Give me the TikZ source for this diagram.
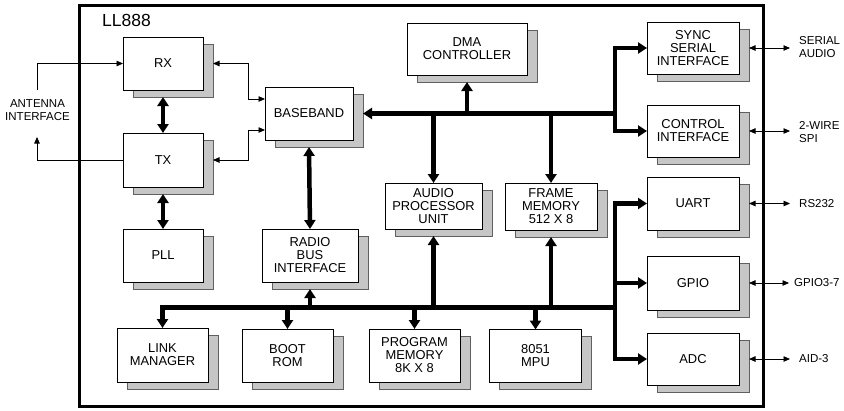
\documentclass[tikz,border=0pt]{standalone}
\usepackage{fontspec}
\setmainfont{Liberation Sans}
\usetikzlibrary{arrows.meta}
\begin{document}
\begin{tikzpicture}[x=1pt,y=-1pt,
  blk/.style={draw=black,line width=0.9pt,fill=white,inner sep=0pt,outer sep=0pt,align=center,
    font=\fontsize{12.9}{13}\selectfont},
  shd/.style={draw=gray!75!black,line width=0.5pt,fill=gray!45,inner sep=0pt,outer sep=0pt},
  bus/.style={line width=4.5pt,line join=miter},
  busarr/.style={bus,-{Triangle[width=11pt,length=9pt]}},
  busboth/.style={bus,{Triangle[width=11pt,length=9pt]}-{Triangle[width=11pt,length=9pt]}},
  thinarr/.style={line width=0.8pt,-{Triangle[width=5.5pt,length=6.5pt]}},
  thinboth/.style={line width=0.8pt,{Triangle[width=5.5pt,length=6.5pt]}-{Triangle[width=5.5pt,length=6.5pt]}},
  side/.style={inner sep=0pt,align=left,font=\fontsize{11.5}{12.8}\selectfont},
]
\useasboundingbox (0,0) rectangle (844,410);
\newcommand{\blkbox}[6]{%
  \node[shd,minimum width=#4pt,minimum height=#5pt] (#1-s) at ({#2+10},{#3+7}) {};
  \node[blk,minimum width=#4pt,minimum height=#5pt] (#1) at (#2,#3) {#6};}
% outer border
\node[draw=black,line width=3pt,inner sep=0pt,minimum width=684pt,minimum height=401pt] (chip) at (421,206) {};
\node[anchor=west,inner sep=0pt,font=\fontsize{17.5}{17.5}\selectfont] (title) at (102,20) {LL888};
% blocks
\blkbox{rx}{163}{63.5}{80}{53}{RX}
\blkbox{tx}{163}{160}{80}{54}{TX}
\blkbox{pll}{163}{255.5}{80}{53}{PLL}
\blkbox{link}{162.5}{355}{91}{54}{LINK\\MANAGER}
\blkbox{boot}{287.5}{355.5}{91}{53}{BOOT\\ROM}
\blkbox{prog}{414.5}{355.5}{91}{53}{PROGRAM\\MEMORY\\8K X 8}
\blkbox{mpu}{535.5}{356}{92}{53}{8051\\MPU}
\blkbox{radio}{310}{255.5}{96}{53}{RADIO\\BUS\\INTERFACE}
\blkbox{bb}{309}{113.5}{88}{53}{BASEBAND}
\blkbox{dma}{467}{49}{120}{52}{DMA\\CONTROLLER}
\blkbox{audio}{433.5}{206}{97}{46}{AUDIO\\PROCESSOR\\UNIT}
\blkbox{frame}{551}{206.5}{92}{47}{FRAME\\MEMORY\\512 X 8}
\blkbox{sync}{693}{48}{92}{52}{SYNC\\SERIAL\\INTERFACE}
\blkbox{ctrl}{693}{131}{92}{52}{CONTROL\\INTERFACE}
\blkbox{uart}{693}{203.5}{92}{53}{UART}
\blkbox{gpio}{693}{283}{92}{54}{GPIO}
\blkbox{adc}{693}{359}{92}{52}{ADC}
% antenna
\node[side,align=center] (ant) at (37.5,110) {ANTENNA\\INTERFACE};
\coordinate (a1) at (37,90);
\coordinate (a2) at (37,137);
\draw[thinarr] (a1) |- (rx.west);
\draw[thinarr] (tx.west) -| (a2);
% rx/tx to baseband
\draw[thinboth] (rx.east -| rx-s.east) -- ++(35,0) |- ([yshift=14.5pt]bb.west);
\draw[thinboth] (tx.east -| tx-s.east) -- ++(35,0) |- ([yshift=-16.5pt]bb.west);
% vertical thick arrows
\draw[busboth] (rx-s.south -| rx.south) -- (tx.north);
\draw[busboth] (tx-s.south -| tx.south) -- (pll.north);
\draw[busboth] (bb-s.south -| bb.south) -- (radio.north);
% upper bus
\coordinate (ub) at (615,113.5);
\draw[busarr] (ub) -- (bb-s.east |- bb.east);
\draw[busarr] (dma.south |- ub) -- (dma-s.south -| dma.south);
\draw[busarr] (audio.north |- ub) -- (audio.north);
\draw[busarr] (frame.north |- ub) -- (frame.north);
\draw[busboth] (sync.west) -- (sync.west -| ub) -- (ctrl.west -| ub) -- (ctrl.west);
% lower bus
\coordinate (lb) at (615,307.5);
\draw[busarr] (lb) -- (link.north |- lb) -- (link.north);
\draw[busarr] (boot.north |- lb) -- (boot.north);
\draw[busarr] (prog.north |- lb) -- (prog.north);
\draw[busarr] (mpu.north |- lb) -- (mpu.north);
\draw[busarr] (radio.south |- lb) -- (radio-s.south -| radio.south);
\draw[busarr] (audio.south |- lb) -- (audio-s.south -| audio.south);
\draw[busarr] (frame.south |- lb) -- (frame-s.south -| frame.south);
\draw[busboth] (uart.west) -- (uart.west -| lb) -- (adc.west -| lb) -- (adc.west);
\draw[busarr] (gpio.west -| lb) -- (gpio.west);
% external labels
\node[side,anchor=west] (sa) at (799,47) {SERIAL\\AUDIO};
\node[side,anchor=west] (spi) at (799,132) {2-WIRE\\SPI};
\node[side,anchor=west] (rs) at (799,203.5) {RS232};
\node[side,anchor=west] (gp) at (794,283) {GPIO3-7};
\node[side,anchor=west] (aid) at (799,359) {AID-3};
\draw[thinboth] (sync.east -| sync-s.east) -- ([xshift=-9pt]sa.west |- sync.east);
\draw[thinboth] (ctrl.east -| ctrl-s.east) -- ([xshift=-9pt]spi.west |- ctrl.east);
\draw[thinboth] (uart.east -| uart-s.east) -- ([xshift=-9pt]rs.west);
\draw[thinboth] (gpio.east -| gpio-s.east) -- ([xshift=-5pt]gp.west);
\draw[thinboth] (adc.east -| adc-s.east) -- ([xshift=-9pt]aid.west);
\end{tikzpicture}
\end{document}
